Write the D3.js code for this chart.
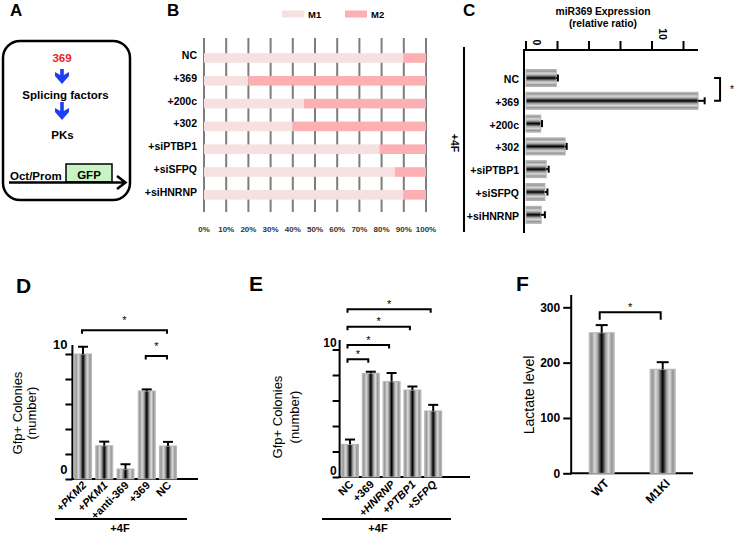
<!DOCTYPE html>
<html><head><meta charset="utf-8">
<script src="https://cdn.jsdelivr.net/npm/d3@7"></script>
<style>body{margin:0;background:#fff} text{font-family:"Liberation Sans",Arial,sans-serif}</style>
</head><body><svg id="c" width="735" height="536"></svg>
<script>
// ---------------- DATA ----------------
const catsB = ["NC","+369","+200c","+302","+siPTBP1","+siSFPQ","+siHNRNP"];
const m1B = [90,20,45,40,79,86,90];
const m2B = [10,80,55,60,21,14,10];
const ticksB = [0,10,20,30,40,50,60,70,80,90,100];
const seriesB = ["M1","M2"];

const catsC = ["NC","+369","+200c","+302","+siPTBP1","+siSFPQ","+siHNRNP"];
const valsC = [2.4,13.65,1.17,3.1,1.6,1.5,1.2];
const errC = [0.13,0.53,0.1,0.13,0.2,0.2,0.3];
const ticksC = [0,2.5,5,7.5,10,12.5];

const catsD = ["+PKM2","+PKM1","+anti-369","+369","NC"];
const valsD = [10.0,2.66,0.8,7.04,2.64];
const errD = [0.5,0.25,0.3,0.05,0.25];
const sigD = [[0,4,11.9],[3,4,9.85]];

const catsE = ["NC","+369","+HNRNP","+PTBP1","+SFPQ"];
const valsE = [2.56,8.13,7.48,6.82,5.18];
const errE = [0.3,0.05,0.6,0.2,0.4];
const sigE = [[0,1,9.23],[0,2,10.35],[0,3,11.79],[0,4,13.15]];

const catsF = ["WT","M1KI"];
const valsF = [254,188];
const errF = [12,11];
const ticksF = [0,100,200,300];
const sigF = [[0,1,291]];

const italicLabels = new Set(["+PKM2","+PKM1","+HNRNP","+PTBP1","+SFPQ"]);

// ---------------- SETUP ----------------
const svg = d3.select("#c");
const defs = svg.append("defs");
const stops = [[0,"#bdbdbd"],[0.1,"#959595"],[0.22,"#dadada"],[0.34,"#a2a2a2"],[0.44,"#3a3a3a"],[0.5,"#000"],[0.56,"#3a3a3a"],[0.66,"#a2a2a2"],[0.78,"#dadada"],[0.9,"#959595"],[1,"#bdbdbd"]];
function grad(id, horiz){
  const g = defs.append("linearGradient").attr("id",id)
    .attr("x1",0).attr("y1",0).attr("x2",horiz?1:0).attr("y2",horiz?0:1);
  stops.forEach(s=>g.append("stop").attr("offset",s[0]).attr("stop-color",s[1]));
}
grad("cylX", true); grad("cylY", false);
const F = '"Liberation Sans",Arial,sans-serif';
function label(t,x,y,size){
  svg.append("text").attr("x",x).attr("y",y).attr("font-size",size).attr("font-weight","bold").text(t);
}
label("A",10,16,17); label("B",167,16,17); label("C",463,16,17);
label("D",16,293,21); label("E",249,291,21); label("F",516,291,21);

// ---------------- PANEL A ----------------
const gA = svg.append("g");
gA.append("rect").attr("x",3).attr("y",41).attr("width",127).attr("height",159).attr("rx",17)
  .attr("fill","none").attr("stroke","#000").attr("stroke-width",2.5);
function atext(t,x,y,color,anchor){
  gA.append("text").attr("x",x).attr("y",y).attr("text-anchor",anchor||"middle")
   .attr("font-size",11.5).attr("font-weight","bold").attr("fill",color||"#000").text(t);
}
atext("369",62,62,"#e8232a");
atext("Splicing factors",65.5,98.5);
atext("PKs",62.5,139);
function blueArrow(x,y0,y1){
  const hh=9, hw=7, sw=1.8;
  gA.append("path").attr("fill","#1d3ff2")
   .attr("d",`M${x-sw},${y0} L${x+sw},${y0} L${x+sw},${y1-hh} L${x+hw},${y1-hh-3} L${x+hw},${y1-hh+1} L${x},${y1} L${x-hw},${y1-hh+1} L${x-hw},${y1-hh-3} L${x-sw},${y1-hh} Z`);
}
blueArrow(62,69,84); blueArrow(62,102,120);
gA.append("rect").attr("x",66).attr("y",164).attr("width",46).attr("height",18)
  .attr("fill","#c8f3c4").attr("stroke","#000").attr("stroke-width",1.5);
atext("GFP",89,179);
atext("Oct/Prom",10,179.5,"#000","start");
gA.append("line").attr("x1",9).attr("x2",125).attr("y1",182.5).attr("y2",182.5).attr("stroke","#000").attr("stroke-width",2.5);
gA.append("path").attr("d","M117,176 L125.5,182.5 L117,189").attr("fill","none").attr("stroke","#000").attr("stroke-width",2.5);

// ---------------- PANEL B ----------------
const gB = svg.append("g");
const xB = d3.scaleLinear().domain([0,100]).range([204,426]);
const yB = d3.scaleBand().domain(catsB).range([46.6,206.2]);
const colB = d3.scaleOrdinal().domain(seriesB).range(["#f6e0e0","#fdb0b4"]);
gB.selectAll("line.grid").data(ticksB).join("line")
  .attr("x1",d=>xB(d)).attr("x2",d=>xB(d)).attr("y1",38).attr("y2",212)
  .attr("stroke","#7d7d7d").attr("stroke-width",2);
const stackB = d3.stack().keys(seriesB)(catsB.map((c,i)=>({cat:c,M1:m1B[i],M2:m2B[i]})));
stackB.forEach(layer=>{
  gB.selectAll(null).data(layer).join("rect")
   .attr("x",d=>xB(d[0])).attr("width",d=>xB(d[1])-xB(d[0]))
   .attr("y",d=>yB(d.data.cat)+yB.bandwidth()/2-4.8).attr("height",9.6)
   .attr("fill",colB(layer.key));
});
gB.selectAll("text.cat").data(catsB).join("text")
  .attr("x",197).attr("y",d=>yB(d)+yB.bandwidth()/2+1).attr("text-anchor","end")
  .attr("font-size",10.5).attr("font-weight","bold").text(d=>d);
gB.selectAll("text.tick").data(ticksB).join("text")
  .attr("x",d=>xB(d)).attr("y",232).attr("text-anchor","middle")
  .attr("font-size",8).attr("font-weight","bold").attr("fill","#333").text(d=>d+"%");
const legX = [282,345];
seriesB.forEach((s,i)=>{
  gB.append("rect").attr("x",legX[i]).attr("y",10.5).attr("width",22).attr("height",7).attr("fill",colB(s));
  gB.append("text").attr("x",legX[i]+26).attr("y",17.5).attr("font-size",9.5).attr("font-weight","bold").text(s);
});

// ---------------- PANEL C ----------------
const gC = svg.append("g");
const xC = d3.scaleLinear().domain([0,13.65]).range([526,698]);
const yC = d3.scaleBand().domain(catsC).range([66.6,226.2]);
gC.append("text").attr("x",603).attr("y",14.5).attr("text-anchor","middle").attr("font-size",10.3).attr("font-weight","bold").text("miR369 Expression");
gC.append("text").attr("x",603).attr("y",26.5).attr("text-anchor","middle").attr("font-size",10.3).attr("font-weight","bold").text("(relative ratio)");
gC.append("line").attr("x1",524).attr("x2",698).attr("y1",50).attr("y2",50).attr("stroke","#000").attr("stroke-width",2);
gC.append("line").attr("x1",524).attr("x2",524).attr("y1",49).attr("y2",233).attr("stroke","#000").attr("stroke-width",2);
gC.selectAll("line.tk").data(ticksC).join("line")
  .attr("x1",d=>xC(d)).attr("x2",d=>xC(d)).attr("y1",41).attr("y2",50).attr("stroke","#000").attr("stroke-width",2);
gC.selectAll("text.tk").data(ticksC.filter(d=>d%10===0)).join("text")
  .attr("transform",d=>`translate(${xC(d)+11},${d===0?42.5:34}) rotate(90)`)
  .attr("text-anchor","middle").attr("dominant-baseline","central")
  .attr("font-size",10.5).attr("font-weight","bold").text(d=>d);
const bhC = 17;
gC.selectAll("rect.bar").data(catsC).join("rect")
  .attr("x",xC(0)).attr("y",d=>yC(d)+yC.bandwidth()/2-bhC/2)
  .attr("width",(d,i)=>xC(valsC[i])-xC(0)).attr("height",bhC)
  .attr("fill","url(#cylY)").attr("stroke","#b0b0b0").attr("stroke-width",1);
catsC.forEach((c,i)=>{
  const cy=yC(c)+yC.bandwidth()/2, x0=xC(valsC[i]), x1=xC(valsC[i]+errC[i]);
  gC.append("line").attr("x1",x0).attr("x2",x1).attr("y1",cy).attr("y2",cy).attr("stroke","#000").attr("stroke-width",2);
  gC.append("line").attr("x1",x1).attr("x2",x1).attr("y1",cy-3.5).attr("y2",cy+3.5).attr("stroke","#000").attr("stroke-width",2);
});
gC.selectAll("text.cat").data(catsC).join("text")
  .attr("x",519).attr("y",d=>yC(d)+yC.bandwidth()/2+1).attr("text-anchor","end").attr("dominant-baseline","central")
  .attr("font-size",10.5).attr("font-weight","bold").text(d=>d);
gC.append("line").attr("x1",464).attr("x2",464).attr("y1",47).attr("y2",232).attr("stroke","#000").attr("stroke-width",2);
gC.append("text").attr("transform","translate(455,143) rotate(90)").attr("text-anchor","middle").attr("dominant-baseline","central")
  .attr("font-size",10.5).attr("font-weight","bold").text("+4F");
{
  const ya=yC(catsC[0])+yC.bandwidth()/2, yb=yC(catsC[1])+yC.bandwidth()/2, bx=xC(15.4);
  gC.append("path").attr("d",`M${bx-6},${ya} L${bx},${ya} L${bx},${yb} L${bx-6},${yb}`)
    .attr("fill","none").attr("stroke","#000").attr("stroke-width",2);
  gC.append("text").attr("x",732).attr("y",(ya+yb)/2+4).attr("text-anchor","middle").attr("font-size",10).attr("fill","#000").text("*");
}

// ---------------- VERTICAL BAR PANELS ----------------
function vpanel(opt){
  const g = svg.append("g");
  const {cats,vals,errs,x,y,bw} = opt;
  const cx = c=>x(c)+x.bandwidth()/2;
  const ax = d3.axisLeft(y).tickValues(opt.ticks).tickSize(opt.tickSize).tickPadding(opt.tickPad)
    .tickFormat(d=>opt.showTick(d)?d:"");
  const ag = g.append("g").attr("transform",`translate(${x.range()[0]},0)`).call(ax);
  ag.select(".domain").remove();
  ag.selectAll(".tick line").attr("stroke","#000").attr("stroke-width",2);
  ag.selectAll(".tick text").attr("font-size",opt.tickFont).attr("font-weight","bold")
    .attr("font-family",F).attr("fill","#000").attr("dy",opt.tickDy);
  g.append("line").attr("x1",x.range()[0]).attr("x2",x.range()[0]).attr("y1",opt.yTop).attr("y2",y(0)+1).attr("stroke","#000").attr("stroke-width",2);
  g.append("line").attr("x1",x.range()[0]-1).attr("x2",opt.xEnd).attr("y1",y(0)).attr("y2",y(0)).attr("stroke","#000").attr("stroke-width",2);
  g.selectAll("rect.bar").data(cats).join("rect")
    .attr("x",c=>cx(c)-bw/2).attr("width",bw)
    .attr("y",(c,i)=>y(vals[i])).attr("height",(c,i)=>y(0)-y(vals[i]))
    .attr("fill","url(#cylX)").attr("stroke","#b5b5b5").attr("stroke-width",1);
  cats.forEach((c,i)=>{
    const x0=cx(c), y0=y(vals[i]), y1=y(vals[i]+errs[i])-1;
    g.append("line").attr("x1",x0).attr("x2",x0).attr("y1",y0).attr("y2",y1).attr("stroke","#000").attr("stroke-width",2);
    g.append("line").attr("x1",x0-opt.cap).attr("x2",x0+opt.cap).attr("y1",y1).attr("y2",y1).attr("stroke","#000").attr("stroke-width",2);
  });
  g.selectAll("text.xl").data(cats).join("text")
    .attr("transform",c=>`translate(${cx(c)+opt.lblDx},${opt.lblY}) rotate(-45)`)
    .attr("text-anchor","end").attr("font-size",opt.lblFont).attr("font-weight","bold")
    .attr("font-style",c=>italicLabels.has(c)?"italic":"normal").text(c=>c);
  opt.sig.forEach(s=>{
    const xa=cx(cats[s[0]])+opt.sigDx, xb=cx(cats[s[1]])+opt.sigDx, yy=y(s[2]);
    g.append("path").attr("d",`M${xa},${yy+opt.drop} L${xa},${yy} L${xb},${yy} L${xb},${yy+opt.drop}`)
      .attr("fill","none").attr("stroke","#000").attr("stroke-width",2);
    g.append("text").attr("x",(xa+xb)/2).attr("y",yy-opt.starGap).attr("text-anchor","middle").attr("font-size",11).text("*");
  });
  opt.ytitle.forEach(t=>{
    g.append("text").attr("transform",`translate(${t[1]},${opt.ytitleY}) rotate(-90)`)
      .attr("text-anchor","middle").attr("dominant-baseline","central").attr("font-size",opt.ytFont).text(t[0]);
  });
  if(opt.group){
    g.append("line").attr("x1",opt.group[0]).attr("x2",opt.group[1]).attr("y1",519).attr("y2",519).attr("stroke","#000").attr("stroke-width",2);
    g.append("text").attr("x",opt.group[2]).attr("y",532).attr("text-anchor","middle").attr("font-size",11).attr("font-weight","bold").text("+4F");
  }
}

vpanel({cats:catsD, vals:valsD, errs:errD, sig:sigD,
  x:d3.scaleBand().domain(catsD).range([72.4,178.6]), y:d3.scaleLinear().domain([0,10]).range([479,354]),
  bw:17, ticks:[0,2,4,6,8,10], tickSize:7, tickPad:-2, tickDy:"-0.45em", tickFont:13, showTick:d=>d===0||d===10,
  yTop:345, xEnd:198, cap:5, lblDx:4, lblY:486, lblFont:11, sigDx:-1, drop:3.5, starGap:6,
  ytitle:[["Gfp+ Colonies",17],["(number)",31]], ytitleY:413, ytFont:13, group:[55,187,120]});

vpanel({cats:catsE, vals:valsE, errs:errE, sig:sigE,
  x:d3.scaleBand().domain(catsE).range([339.6,443.6]), y:d3.scaleLinear().domain([0,10]).range([477,349.5]),
  bw:17, ticks:[0,2,4,6,8,10], tickSize:7, tickPad:-4, tickDy:"-0.25em", tickFont:12, showTick:d=>d===0||d===10,
  yTop:340, xEnd:470, cap:5, lblDx:4, lblY:485, lblFont:11, sigDx:-2.5, drop:3.5, starGap:1.5,
  ytitle:[["Gfp+ Colonies",277],["(number)",294]], ytitleY:417, ytFont:13, group:[322,451,378]});

vpanel({cats:catsF, vals:valsF, errs:errF, sig:sigF,
  x:d3.scaleBand().domain(catsF).range([571.2,693.2]), y:d3.scaleLinear().domain([0,300]).range([473.3,307.3]),
  bw:25, ticks:ticksF, tickSize:8, tickPad:3, tickDy:"0.32em", tickFont:12, showTick:d=>true,
  yTop:295, xEnd:693, cap:6, lblDx:8, lblY:484, lblFont:12, sigDx:-2, drop:7.5, starGap:1.5,
  ytitle:[["Lactate level",529]], ytitleY:395, ytFont:14, group:null});
</script></body></html>
